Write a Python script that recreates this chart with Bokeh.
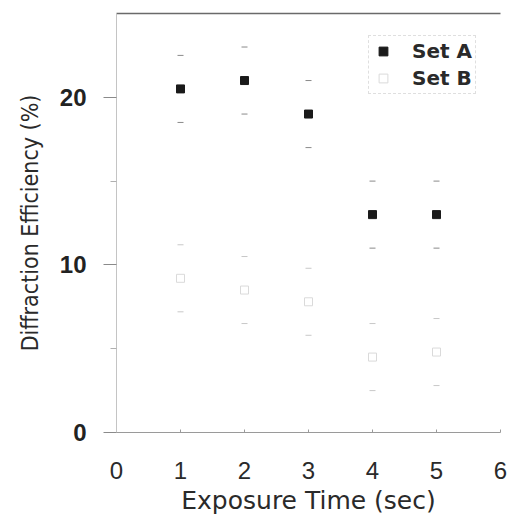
from bokeh.plotting import figure
from bokeh.models import (ColumnDataSource, Whisker, TeeHead, Legend, LegendItem,
                          LinearAxis, FixedTicker, Range1d)
from bokeh.embed import file_html
from bokeh.resources import INLINE

# ---- data ----
exposure_time = [1, 2, 3, 4, 5]
set_a = [20.5, 21.0, 19.0, 13.0, 13.0]
set_a_err = [2.0, 2.0, 2.0, 2.0, 2.0]
set_b = [9.2, 8.5, 7.8, 4.5, 4.8]
set_b_err = [2.0, 2.0, 2.0, 2.0, 2.0]
x_ticks = [0, 1, 2, 3, 4, 5, 6]
y_ticks = [0, 10, 20]
y_minor_ticks = [5, 15]

src_a = ColumnDataSource(dict(
    x=exposure_time, y=set_a,
    upper=[v + e for v, e in zip(set_a, set_a_err)],
    lower=[v - e for v, e in zip(set_a, set_a_err)]))
src_b = ColumnDataSource(dict(
    x=exposure_time, y=set_b,
    upper=[v + e for v, e in zip(set_b, set_b_err)],
    lower=[v - e for v, e in zip(set_b, set_b_err)]))

p = figure(width=508, height=517, x_range=Range1d(0, 6), y_range=Range1d(0, 25),
           output_backend="svg", toolbar_location=None,
           min_border_left=116, min_border_right=8, min_border_top=13, min_border_bottom=85)
p.xgrid.visible = False
p.ygrid.visible = False
p.outline_line_color = None
p.background_fill_color = "white"

# error-bar caps (stems faded out in the reference)
for src, col in ((src_a, "#8a8a8a"), (src_b, "#c8c8c8")):
    w = Whisker(base="x", upper="upper", lower="lower", source=src, dimension="height",
                line_alpha=0,
                upper_head=TeeHead(size=6, line_color=col, line_width=1),
                lower_head=TeeHead(size=6, line_color=col, line_width=1))
    p.add_layout(w)

ra = p.scatter("x", "y", source=src_a, marker="square", size=8,
               fill_color="#1a1a1a", line_color="#1a1a1a")
rb = p.scatter("x", "y", source=src_b, marker="square", size=8,
               fill_color=None, line_color="#dadada", line_width=1)

# x axis
xa = p.xaxis[0]
xa.ticker = FixedTicker(ticks=x_ticks)
xa.axis_line_color = "#9a9a9a"
xa.major_tick_line_color = "#9a9a9a"
xa.major_tick_out = 0
xa.major_tick_in = 3
xa.minor_tick_line_color = None
xa.major_label_standoff = 29
xa.major_label_text_font = "Liberation Sans"
xa.major_label_text_font_size = "24px"
xa.major_label_text_color = "#2a2a2a"
xa.axis_label = "Exposure Time (sec)"
xa.axis_label_text_font = "DejaVu Sans"
xa.axis_label_text_font_size = "25px"
xa.axis_label_text_font_style = "normal"
xa.axis_label_text_color = "#2a2a2a"
xa.axis_label_standoff = 4

# y axis
ya = p.yaxis[0]
ya.ticker = FixedTicker(ticks=y_ticks, minor_ticks=y_minor_ticks)
ya.axis_line_color = "#c4c4c4"
ya.major_tick_line_color = "#8a8a8a"
ya.major_tick_out = 13
ya.major_tick_in = 0
ya.minor_tick_line_color = "#b0b0b0"
ya.minor_tick_out = 6
ya.minor_tick_in = 0
ya.major_label_standoff = 17
ya.major_label_text_font = "Liberation Sans"
ya.major_label_text_font_size = "24px"
ya.major_label_text_font_style = "bold"
ya.major_label_text_color = "#222222"
ya.axis_label = "Diffraction Efficiency (%)"
ya.axis_label_text_font = "DejaVu Sans Condensed, Liberation Sans"
ya.axis_label_text_font_size = "23px"
ya.axis_label_text_font_style = "normal"
ya.axis_label_text_color = "#2a2a2a"
ya.axis_label_standoff = 14

# top frame line
top = LinearAxis(ticker=FixedTicker(ticks=[]), axis_line_color="#6a6a6a", axis_line_width=1.5,
                 major_tick_line_color=None, minor_tick_line_color=None,
                 major_label_text_font_size="0px", major_label_standoff=0)
p.add_layout(top, "above")

legend = Legend(items=[LegendItem(label="Set A", renderers=[ra]),
                       LegendItem(label="Set B", renderers=[rb])],
                location=(252, 338), orientation="vertical",
                padding=3, spacing=3, margin=0,
                glyph_width=22, glyph_height=24, label_height=24, label_standoff=18,
                label_text_font="DejaVu Sans", label_text_font_size="20px",
                label_text_font_style="bold", label_text_color="#2a2a2a",
                border_line_color="#c0c0c0", border_line_dash="3 3",
                background_fill_alpha=0)
p.add_layout(legend)

open("out.html", "w").write(file_html(p, INLINE))
